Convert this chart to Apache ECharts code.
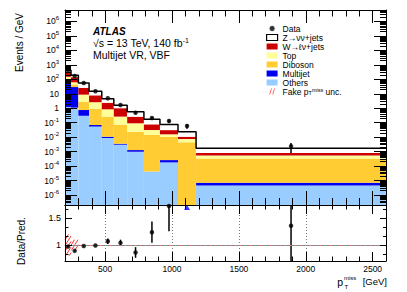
<!DOCTYPE html>
<html><head><meta charset="utf-8">
<script src="https://cdn.jsdelivr.net/npm/echarts@6/dist/echarts.min.js"></script>
<style>html,body{margin:0;padding:0;background:#fff}#c{width:407px;height:292px}</style>
</head><body><div id="c"></div>
<script>
// ---------------- data ----------------
const binEdges = [200, 245, 300, 380, 475, 565, 665, 790, 910, 1045, 1180, 2600];
const others   = [1.2, 1.1, 0.30, 0.054, 0.0087, 0.0030, 0.00098, 4.2e-5, 1.8e-4, 0, 4.5e-6];
const multijet = [88, 28, 0.45, 0.015, 0.002, 0.0005, 0.0003, 0, 8e-5, 0, 2.6e-6];
const diboson  = [25, 15, 1.95, 0.84, 0.25, 0.07, 0.0223, 0.014, 0.0104, 0.0044, 3.33e-4];
const topq     = [35, 18, 6.0, 1.69, 0.58, 0.19, 0.067, 0.017, 0.005, 0.003, 1.9e-4];
const wjets    = [180, 78, 17.3, 5.2, 1.56, 0.74, 0.17, 0.046, 0.015, 0.0033, 2.7e-4];
const zjets    = [100, 50, 30, 7.2, 2.2, 0.6, 0.31, 0.093, 0.044, 0.013, 9e-4];
const dataVals = [420, 169, 55, 15, 4.9, 1.66, 0.49, 0.21, 0.13, 0.059, 0.0024];
const ratioVals = [0.97, 0.89, 0.98, 0.99, 1.07, 1.04, 0.86, 1.24, 1.73, 2.5, 1.36];
const ratioErr  = [0.01, 0.01, 0.01, 0.015, 0.05, 0.06, 0.10, 0.20, 0.47, 0.9, 0.9];
const fakeUnc   = [0.20, 0.10, 0, 0, 0, 0, 0, 0, 0, 0, 0];
const yTickExps = [-6, -5, -4, -3, -2, -1, 0, 1, 2, 3, 4, 5, 6];
const xTickLabels = [500, 1000, 1500, 2000, 2500];
const ratioTickLabels = [1, 1.5];
const ratioMinorTicks = [0.8333, 1.1667, 1.3333, 1.6667];
const ratioGridX = [500, 1000, 1500, 2000];

// ---------------- setup ----------------
const FONT = '"Liberation Sans", Arial, Helvetica, sans-serif';
const X_MIN = 200, X_MAX = 2600;
const Y_MIN = -6.69, Y_MAX = 6.79;
const R_MIN = 0.70, R_MAX = 1.75;
const FAKE = 'Fake pTmiss unc.';
const nb = binEdges.length - 1;
const centers = binEdges.slice(0, -1).map((e, i) => (e + binEdges[i + 1]) / 2);
const lg = v => v > 0 ? Math.log10(v) : -99;
const clampY = v => Math.min(Y_MAX, Math.max(Y_MIN, v));
const clampR = v => Math.min(R_MAX, Math.max(R_MIN, v));

const layers = [
  {name: 'Others', vals: others, color: '#99ccff'},
  {name: 'Multijet', vals: multijet, color: '#0000ee'},
  {name: 'Diboson', vals: diboson, color: '#ffcc33'},
  {name: 'Top', vals: topq, color: '#ffff99'},
  {name: 'W→ℓν+jets', vals: wjets, color: '#cc0000'},
  {name: 'Z→νν+jets', vals: zjets, color: '#ffffff'}
];

const cum = new Array(nb).fill(0);
const series = [];
layers.forEach(L => {
  const items = [];
  for (let i = 0; i < nb; i++) {
    const lo = cum[i], hi = cum[i] + L.vals[i];
    cum[i] = hi;
    if (L.vals[i] > 0) items.push([binEdges[i], binEdges[i + 1], clampY(lg(lo)), clampY(lg(hi))]);
  }
  series.push({
    type: 'custom', name: L.name, xAxisIndex: 0, yAxisIndex: 0, z: 2, silent: true,
    itemStyle: {color: L.color},
    data: items,
    renderItem: (params, api) => {
      const a = api.coord([api.value(0), api.value(2)]);
      const b = api.coord([api.value(1), api.value(3)]);
      return {type: 'rect', shape: {x: a[0], y: b[1], width: b[0] - a[0], height: a[1] - b[1]},
              style: {fill: L.color}};
    }
  });
});
const totals = cum.slice();

// outline of total
series.push({
  type: 'line', name: 'outline', step: 'end', xAxisIndex: 0, yAxisIndex: 0, z: 3, silent: true,
  symbol: 'none', lineStyle: {color: '#000', width: 1.5},
  data: binEdges.map((e, i) => [e, lg(totals[Math.min(i, nb - 1)])])
});

// data error bars (main)
function vbar(color, width) {
  return (params, api) => {
    const a = api.coord([api.value(0), api.value(1)]);
    const b = api.coord([api.value(0), api.value(2)]);
    return {type: 'line', shape: {x1: a[0], y1: a[1], x2: b[0], y2: b[1]},
            style: {stroke: color, lineWidth: width}};
  };
}
series.push({
  type: 'custom', name: 'dataErr', xAxisIndex: 0, yAxisIndex: 0, z: 4, silent: true,
  data: dataVals.map((d, i) => {
    const e = d * ratioErr[i] / ratioVals[i];
    return [centers[i], clampY(lg(Math.max(d - e, 1e-12))), clampY(lg(d + e))];
  }),
  renderItem: vbar('#000', 1.5)
});
series.push({
  type: 'scatter', name: 'Data', xAxisIndex: 0, yAxisIndex: 0, z: 5, silent: true,
  symbol: 'circle', symbolSize: 4.5, itemStyle: {color: '#000'},
  data: dataVals.map((d, i) => [centers[i], lg(d)])
});

// ratio: fake uncertainty hatched band
series.push({
  type: 'custom', name: FAKE, xAxisIndex: 4, yAxisIndex: 4, z: 1, silent: true,
  itemStyle: {color: '#ff3333'},
  data: fakeUnc.map((u, i) => [binEdges[i], binEdges[i + 1], clampR(1 - u), clampR(1 + u)]).filter((d, i) => fakeUnc[i] > 0),
  renderItem: (params, api) => {
    const a = api.coord([api.value(0), api.value(2)]);
    const b = api.coord([api.value(1), api.value(3)]);
    const x0 = a[0], x1 = b[0], yB = a[1], yT = b[1];
    const m = 1.6, s = 3.5, H = yB - yT;
    const ch = [];
    for (let c = x0 - H / m; c < x1; c += s) {
      const u0 = Math.max(x0 - c, 0), u1 = Math.min(x1 - c, H / m);
      if (u1 > u0) ch.push({type: 'line', shape: {x1: c + u0, y1: yB - m * u0, x2: c + u1, y2: yB - m * u1},
                            style: {stroke: '#ff3333', lineWidth: 1}});
    }
    return {type: 'group', children: ch};
  },
  markLine: {
    silent: true, symbol: 'none', animation: false, label: {show: false},
    data: ratioGridX.map(x => ({xAxis: x, lineStyle: {color: '#777', type: [1, 2], width: 1}}))
      .concat([{yAxis: 1, lineStyle: {color: '#888', type: 'solid', width: 1}},
               {yAxis: 1, lineStyle: {color: '#ff7777', type: [1, 4], width: 1}}])
  }
});
// ratio error bars and points
series.push({
  type: 'custom', name: 'ratioErr', xAxisIndex: 4, yAxisIndex: 4, z: 4, silent: true,
  data: ratioVals.map((r, i) => [centers[i], clampR(r - ratioErr[i]), clampR(r + ratioErr[i])]).filter((d, i) => ratioVals[i] <= R_MAX),
  renderItem: vbar('#000', 1.5)
});
series.push({
  type: 'scatter', name: 'ratio', xAxisIndex: 4, yAxisIndex: 4, z: 5, silent: true,
  symbol: 'circle', symbolSize: 4.5, itemStyle: {color: '#000'},
  data: ratioVals.map((r, i) => [centers[i], r]).filter(d => d[1] <= R_MAX)
});
series.push({
  type: 'scatter', name: 'ratioOff', xAxisIndex: 4, yAxisIndex: 4, z: 5, silent: true,
  symbol: 'triangle', symbolSize: [6, 5], symbolOffset: [0, 2.5], itemStyle: {color: '#0000ff'},
  data: ratioVals.map((r, i) => [centers[i], R_MAX]).filter((d, i) => ratioVals[i] > R_MAX)
});

// ---------------- axes ----------------
const xMinor = [];
for (let v = 300; v < X_MAX; v += 100) if (v % 500 !== 0) xMinor.push(v);
const yMinor = [];
for (let n = -7; n <= 6; n++) for (let k = 2; k <= 9; k++) {
  const v = n + Math.log10(k); if (v > Y_MIN && v < Y_MAX) yMinor.push(v);
}
const axLine = {show: true, onZero: false, lineStyle: {color: '#000', width: 1}};
function ax(type, grid, pos, ticks, len, extra) {
  const isX = type === 'x';
  const o = {
    type: 'value', gridIndex: grid, position: pos, z: 10,
    min: isX ? X_MIN : (grid === 0 ? Y_MIN : R_MIN),
    max: isX ? X_MAX : (grid === 0 ? Y_MAX : R_MAX),
    axisLine: {show: false, onZero: false},
    axisTick: {show: true, inside: true, length: len, customValues: ticks, lineStyle: {color: '#000', width: 1}},
    axisLabel: {show: false}, splitLine: {show: false}
  };
  return Object.assign(o, extra || {});
}
const labStyle = {color: '#000', fontFamily: FONT};
const xAxes = [
  ax('x', 0, 'bottom', xTickLabels, 14, {axisLine: axLine}),
  ax('x', 0, 'bottom', xMinor, 7),
  ax('x', 0, 'top', xTickLabels, 13, {axisLine: axLine}),
  ax('x', 0, 'top', xMinor, 6.5),
  ax('x', 1, 'bottom', xTickLabels, 9, {axisLine: axLine,
    axisLabel: Object.assign({show: true, customValues: xTickLabels, fontSize: 8.5, margin: 3.5,
      formatter: v => String(v)}, labStyle)}),
  ax('x', 1, 'bottom', xMinor, 4.5),
  ax('x', 1, 'top', xTickLabels, 9, {axisLine: axLine}),
  ax('x', 1, 'top', xMinor, 4.5)
];
const yAxes = [
  ax('y', 0, 'left', yTickExps, 12, {axisLine: axLine,
    axisLabel: Object.assign({show: true, customValues: yTickExps, fontSize: 8.5, margin: 6, lineHeight: 12,
      formatter: v => { const e = Math.round(v); if (e === 0) return '1'; if (e === 1) return '10'; return '10{s|' + e + '}'; },
      rich: {s: {fontSize: 6, lineHeight: 6, verticalAlign: 'top', fontFamily: FONT, color: '#000'}}}, labStyle)}),
  ax('y', 0, 'left', yMinor, 6),
  ax('y', 0, 'right', yTickExps, 12, {axisLine: axLine}),
  ax('y', 0, 'right', yMinor, 6),
  ax('y', 1, 'left', ratioTickLabels, 7, {axisLine: axLine,
    axisLabel: Object.assign({show: true, customValues: ratioTickLabels, fontSize: 9, margin: 4,
      formatter: v => String(v)}, labStyle)}),
  ax('y', 1, 'left', ratioMinorTicks, 3.5),
  ax('y', 1, 'right', ratioTickLabels, 6, {axisLine: axLine}),
  ax('y', 1, 'right', ratioMinorTicks, 3)
];

// ---------------- texts ----------------
const txt = (x, y, text, size, extra) => ({
  type: 'text', x: x, y: y, silent: true, z: 20,
  style: Object.assign({text: text, fontSize: size, fontFamily: FONT, fill: '#000', align: 'left', verticalAlign: 'middle'}, extra || {})
});
const graphic = [
  txt(93, 31, 'ATLAS', 10, {fontWeight: 'bold', fontStyle: 'italic'}),
  txt(93, 42.5, '√s = 13 TeV, 140 fb{s|-1}', 10.5, {rich: {s: {fontSize: 7, lineHeight: 7, verticalAlign: 'top', fontFamily: FONT, fill: '#000'}}}),
  txt(93, 54.5, 'Multijet VR, VBF', 10.5),
  Object.assign(txt(19, 13, 'Events / GeV', 10, {align: 'right'}), {rotation: Math.PI / 2}),
  Object.assign(txt(21, 241, 'Data/Pred.', 10, {align: 'center'}), {rotation: Math.PI / 2}),
  txt(343, 281.5, 'p', 10.5, {align: 'right'}),
  txt(344, 278, 'miss', 6),
  txt(344.5, 286.5, 'T', 6),
  txt(387, 281.5, '[GeV]', 9.5, {align: 'right'})
];

const chart = echarts.init(document.getElementById('c'), null, {renderer: 'svg', width: 407, height: 292});
chart.setOption({
  animation: false,
  backgroundColor: '#fff',
  textStyle: {fontFamily: FONT},
  grid: [
    {left: 65, top: 10, width: 321, height: 195, outerBoundsMode: 'none'},
    {left: 65, top: 205, width: 321, height: 56, outerBoundsMode: 'none'}
  ],
  xAxis: xAxes,
  yAxis: yAxes,
  legend: {
    orient: 'vertical', left: 266, top: 24, padding: 0, itemWidth: 11, itemHeight: 6, itemGap: 0,
    selectedMode: false,
    textStyle: {fontSize: 8.5, lineHeight: 8.6, fontFamily: FONT, color: '#000',
      rich: {sub: {fontSize: 5.5, lineHeight: 4.3, verticalAlign: 'bottom', fontFamily: FONT, color: '#000'},
             sup: {fontSize: 5.5, lineHeight: 4.3, verticalAlign: 'top', fontFamily: FONT, color: '#000'}}},
    formatter: n => n === FAKE ? 'Fake p{sub|T}{sup|miss} unc.' : n,
    data: [
      {name: 'Data', icon: 'circle', itemStyle: {color: '#000', borderColor: '#fff', borderWidth: 1}},
      {name: 'Z→νν+jets', icon: 'rect', itemStyle: {color: '#fff', borderColor: '#000', borderWidth: 1.2}},
      {name: 'W→ℓν+jets', icon: 'rect', itemStyle: {color: '#cc0000'}},
      {name: 'Top', icon: 'rect', itemStyle: {color: '#ffff99'}},
      {name: 'Diboson', icon: 'rect', itemStyle: {color: '#ffcc33'}},
      {name: 'Multijet', icon: 'rect', itemStyle: {color: '#0000ee'}},
      {name: 'Others', icon: 'rect', itemStyle: {color: '#99ccff'}},
      {name: FAKE, icon: 'path://M0,10L3,0H4.2L1.2,10Z M5,10L8,0H9.2L6.2,10Z', itemStyle: {color: '#ff3333'}}
    ]
  },
  graphic: graphic,
  series: series
});
</script>
</body></html>
